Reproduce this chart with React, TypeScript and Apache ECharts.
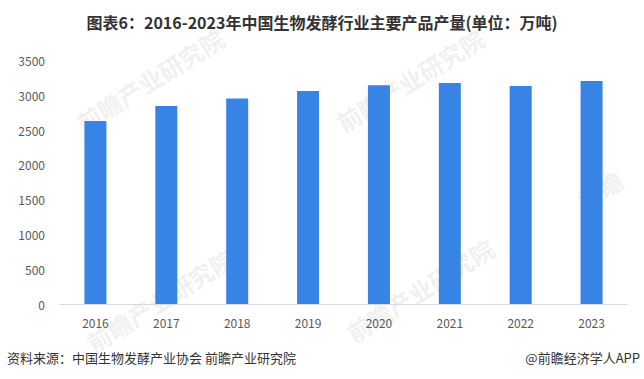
import React, { useEffect, useRef } from "react";
import * as echarts from "echarts";

const categories = ["2016", "2017", "2018", "2019", "2020", "2021", "2022", "2023"];
const values = [2630, 2845, 2955, 3060, 3145, 3175, 3135, 3205];
const yTicks = { min: 0, max: 3500, interval: 500 };
const titleText = "图表6：2016-2023年中国生物发酵行业主要产品产量(单位：万吨)";
const sourceText = "资料来源：中国生物发酵产业协会 前瞻产业研究院";
const brandText = "@前瞻经济学人APP";

const FONT = "'Noto Sans CJK SC', 'Noto Sans', sans-serif";

export default function App() {
  const ref = useRef<HTMLDivElement>(null);
  useEffect(() => {
    if (!ref.current) return;
    const chart = echarts.init(ref.current, null, { renderer: "svg" });
    const wm = (x: number, y: number, size: number, text: string) => ({
      type: "text",
      x,
      y,
      rotation: (32 * Math.PI) / 180,
      z: -1,
      silent: true,
      style: {
        text,
        fill: "rgba(190,190,190,0.22)",
        font: `bold ${size}px ${FONT}`,
        textAlign: "center",
        textVerticalAlign: "middle",
      },
    });
    chart.setOption({
      animation: false,
      textStyle: { fontFamily: FONT },
      title: {
        text: titleText,
        left: "center",
        top: 9,
        textStyle: { fontSize: 16, fontWeight: "bold", color: "#333333", fontFamily: FONT },
      },
      grid: { left: 60, right: 17, top: 60.5, bottom: 75, containLabel: false },
      xAxis: {
        type: "category",
        data: categories,
        axisLine: { show: true, lineStyle: { color: "#d9d9d9", width: 1 } },
        axisTick: { show: false },
        axisLabel: { color: "#595959", fontSize: 12, margin: 12, fontFamily: FONT },
      },
      yAxis: {
        type: "value",
        min: yTicks.min,
        max: yTicks.max,
        interval: yTicks.interval,
        axisLine: { show: false },
        axisTick: { show: false },
        splitLine: { show: false },
        axisLabel: {
          color: "#595959",
          fontSize: 12,
          margin: 15,
          fontFamily: FONT,
          formatter: (v: number) => String(v),
        },
      },
      series: [
        {
          type: "bar",
          data: values,
          barWidth: 22,
          itemStyle: { color: "#3784e4" },
        },
      ],
      graphic: [
        wm(150, 80, 24, "前瞻产业研究院"),
        wm(410, 80, 24, "前瞻产业研究院"),
        wm(160, 300, 24, "前瞻产业研究院"),
        wm(420, 290, 24, "前瞻产业研究院"),
        wm(600, 190, 24, "前瞻"),
        {
          type: "text",
          left: 7,
          top: 351,
          style: { text: sourceText, fill: "#333333", font: `13px ${FONT}` },
        },
        {
          type: "text",
          right: 4,
          top: 351,
          style: { text: brandText, fill: "#333333", font: `13px ${FONT}` },
        },
      ],
    });
    return () => chart.dispose();
  }, []);
  return <div ref={ref} style={{ width: 644, height: 379, position: "absolute", left: 0, top: 0 }} />;
}
